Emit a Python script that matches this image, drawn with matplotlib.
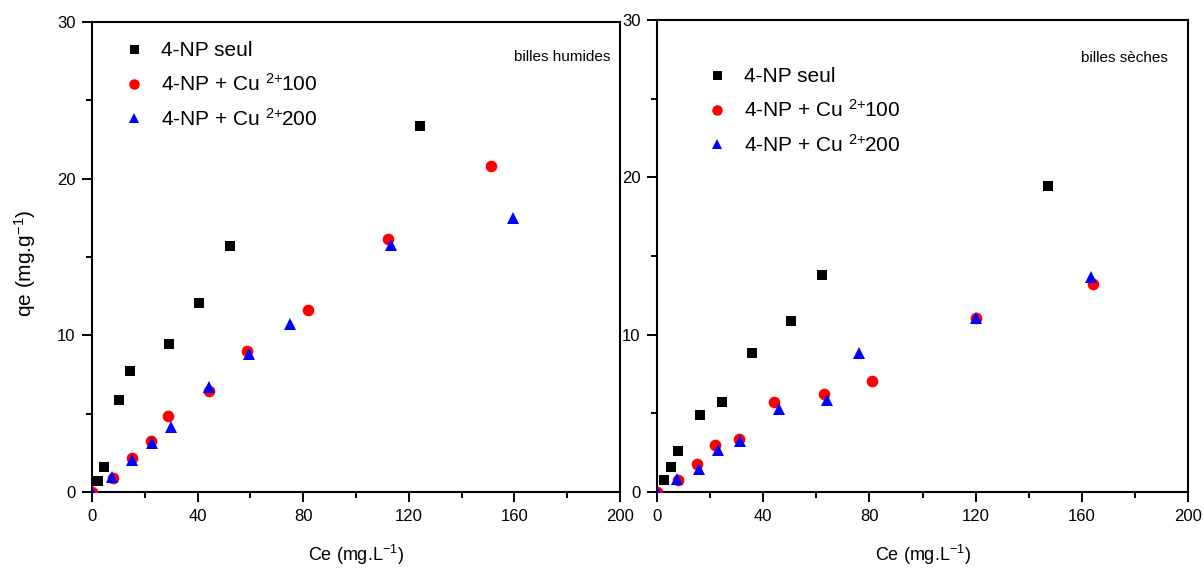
import matplotlib
matplotlib.use("Agg")
import matplotlib.pyplot as plt
from matplotlib.ticker import MultipleLocator

# ---- data: wet beads (billes humides) ----
ce_seul_h = [2.3, 4.6, 10.4, 14.5, 29.1, 40.6, 52.3, 124.1]
qe_seul_h = [0.69, 1.59, 5.9, 7.75, 9.43, 12.04, 15.7, 23.35]
ce_cu100_h = [0, 7.9, 15.0, 22.3, 28.6, 44.5, 58.7, 82.0, 112.2, 151.2]
qe_cu100_h = [0, 0.87, 2.15, 3.26, 4.82, 6.44, 9.03, 11.63, 16.14, 20.8]
ce_cu200_h = [0, 7.6, 15.2, 22.6, 30.1, 44.2, 59.3, 74.9, 113.1, 159.3]
qe_cu200_h = [0, 0.97, 2.04, 3.15, 4.13, 6.72, 8.81, 10.74, 15.76, 17.47]

# ---- data: dry beads (billes sèches) ----
ce_seul_s = [2.8, 5.4, 7.9, 16.3, 24.3, 35.8, 50.4, 62.3, 147.2]
qe_seul_s = [0.79, 1.6, 2.58, 4.91, 5.72, 8.83, 10.87, 13.81, 19.48]
ce_cu100_s = [0, 7.9, 15.1, 22.0, 30.8, 44.2, 62.8, 80.9, 120.1, 164.3]
qe_cu100_s = [0, 0.75, 1.79, 2.98, 3.34, 5.74, 6.23, 7.04, 11.04, 13.19]
ce_cu200_s = [0, 7.7, 16.0, 23.0, 31.1, 45.8, 64.2, 76.1, 120.3, 163.3]
qe_cu200_s = [0, 0.85, 1.47, 2.66, 3.26, 5.26, 5.85, 8.83, 11.09, 13.68]

series_labels = ["4-NP seul",
                 r"4-NP + Cu $^{\mathrm{2\!+\!\!}}$100",
                 r"4-NP + Cu $^{\mathrm{2\!+\!\!}}$200"]
panel_titles = ["billes humides", "billes sèches"]
x_label = r"Ce (mg.L$^{\mathrm{-1}}$)"
y_label = r"qe (mg.g$^{\mathrm{-1}}$)"

plt.rcParams["font.family"] = ["Liberation Sans", "DejaVu Sans"]
plt.rcParams["mathtext.fontset"] = "custom"
plt.rcParams["mathtext.rm"] = "Liberation Sans"
plt.rcParams["mathtext.it"] = "Liberation Sans:italic"
plt.rcParams["mathtext.bf"] = "Liberation Sans:bold"

W, H = 1204, 570
fig = plt.figure(figsize=(W / 100, H / 100), dpi=100)


def px_box(x0, y0, x1, y1):
    return [x0 / W, 1 - y1 / H, (x1 - x0) / W, (y1 - y0) / H]


ax_h = fig.add_axes(px_box(92, 22, 620, 492))
ax_s = fig.add_axes(px_box(657, 20, 1188, 492))

panels = [
    (ax_h, (ce_seul_h, qe_seul_h), (ce_cu100_h, qe_cu100_h), (ce_cu200_h, qe_cu200_h),
     panel_titles[0], (134, 49), (562, 57)),
    (ax_s, (ce_seul_s, qe_seul_s), (ce_cu100_s, qe_cu100_s), (ce_cu200_s, qe_cu200_s),
     panel_titles[1], (717, 75), (1124, 58)),
]

for ax, seul, cu100, cu200, title, leg_xy, title_xy in panels:
    ax.plot(*seul, ls="none", marker="s", ms=7.2, color="black", mew=0,
            label=series_labels[0], zorder=3)
    ax.plot(*cu100, ls="none", marker="o", ms=8.4, color="#ff0000", mew=0,
            label=series_labels[1], zorder=4)
    ax.plot(*cu200, ls="none", marker="^", ms=8.7, color="#0000ff", mew=0,
            label=series_labels[2], zorder=5)

    ax.set_xlim(0, 200)
    ax.set_ylim(0, 30)
    ax.xaxis.set_major_locator(MultipleLocator(40))
    ax.xaxis.set_minor_locator(MultipleLocator(20))
    ax.yaxis.set_major_locator(MultipleLocator(10))
    ax.yaxis.set_minor_locator(MultipleLocator(5))
    ax.tick_params(which="major", direction="out", length=7, width=1.4,
                   top=False, right=False, pad=5, labelsize=12)
    ax.tick_params(which="minor", direction="out", length=4, width=1.4,
                   top=False, right=False)
    for sp in ax.spines.values():
        sp.set_linewidth(1.5)

    ax.set_xlabel(x_label, fontsize=13, labelpad=14)

    ax.text(title_xy[0] / W, 1 - title_xy[1] / H, title, transform=fig.transFigure,
            ha="center", va="center", fontsize=11)

    fs = 15
    fs_px = fs * 100 / 72
    hl = 1.0
    ax.legend(loc="upper left",
              bbox_to_anchor=((leg_xy[0] - hl * fs_px / 2) / W,
                              1 - (leg_xy[1] - 7.5) / H),
              bbox_transform=fig.transFigure, frameon=False, fontsize=fs,
              handlelength=hl, handletextpad=0.8, labelspacing=0.6,
              borderpad=0, borderaxespad=0, numpoints=1, markerscale=0.9)

ax_h.set_ylabel(y_label, fontsize=15)
ax_h.yaxis.set_label_coords(-0.102, 0.487)

fig.savefig("out.png", dpi=100)
